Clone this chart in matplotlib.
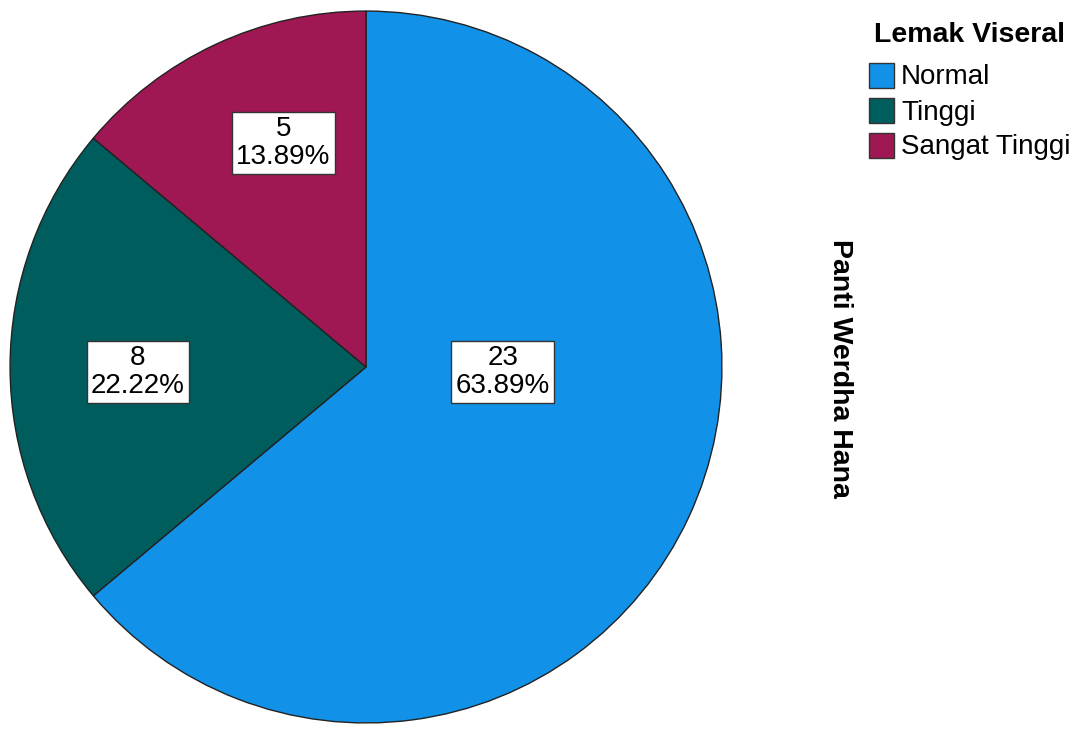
import matplotlib.pyplot as plt
from matplotlib.patches import Rectangle

plt.rcParams['font.family'] = ['Liberation Sans', 'DejaVu Sans']

categories = ['Normal', 'Tinggi', 'Sangat Tinggi']
counts = [23, 8, 5]
percents = ['63.89%', '22.22%', '13.89%']
colors = ['#1192e8', '#005d5d', '#9f1853']
legend_title = 'Lemak Viseral'
panel_title = 'Panti Werdha Hana'

# label box positions (radius = 1)
label_pos = [(0.384, -0.014), (-0.641, -0.014), (-0.232, 0.630)]

W, H = 1078, 729
fig = plt.figure(figsize=(W / 100, H / 100), dpi=100)
cx, cy, r = 366, 367, 357
ax = fig.add_axes([(cx - r) / W, (H - cy - r) / H, 2 * r / W, 2 * r / H])

ax.pie(counts, colors=colors, startangle=90, counterclock=False, radius=1,
       wedgeprops=dict(edgecolor='#222222', linewidth=1.0))
ax.set_xlim(-1.003, 1.003)
ax.set_ylim(-1.003, 1.003)
ax.set_aspect('equal')
ax.axis('off')

for (x, y), n, p in zip(label_pos, counts, percents):
    ax.text(x, y, f'{n}\n{p}', ha='center', va='center', fontsize=20,
            linespacing=1.1,
            bbox=dict(boxstyle='square,pad=0.15', facecolor='white',
                      edgecolor='#333333', linewidth=1.0))

fig.text(840 / W, 1 - 368 / H, panel_title, rotation=-90, ha='center',
         va='center', fontsize=20.5, fontweight='bold')

# legend, drawn by hand in pixel positions
fig.text(874 / W, 1 - 35 / H, legend_title, ha='left', va='center',
         fontsize=20.5, fontweight='bold')
for i, (lab, c) in enumerate(zip(categories, colors)):
    yc = 75.5 + i * 35
    fig.add_artist(Rectangle((869 / W, 1 - (yc + 12.5) / H), 25 / W, 25 / H,
                             transform=fig.transFigure, facecolor=c,
                             edgecolor='#333333', linewidth=1.0))
    fig.text(901 / W, 1 - (yc + 2) / H, lab, ha='left', va='center',
             fontsize=20)

fig.savefig('out.png', dpi=100, facecolor='white')
